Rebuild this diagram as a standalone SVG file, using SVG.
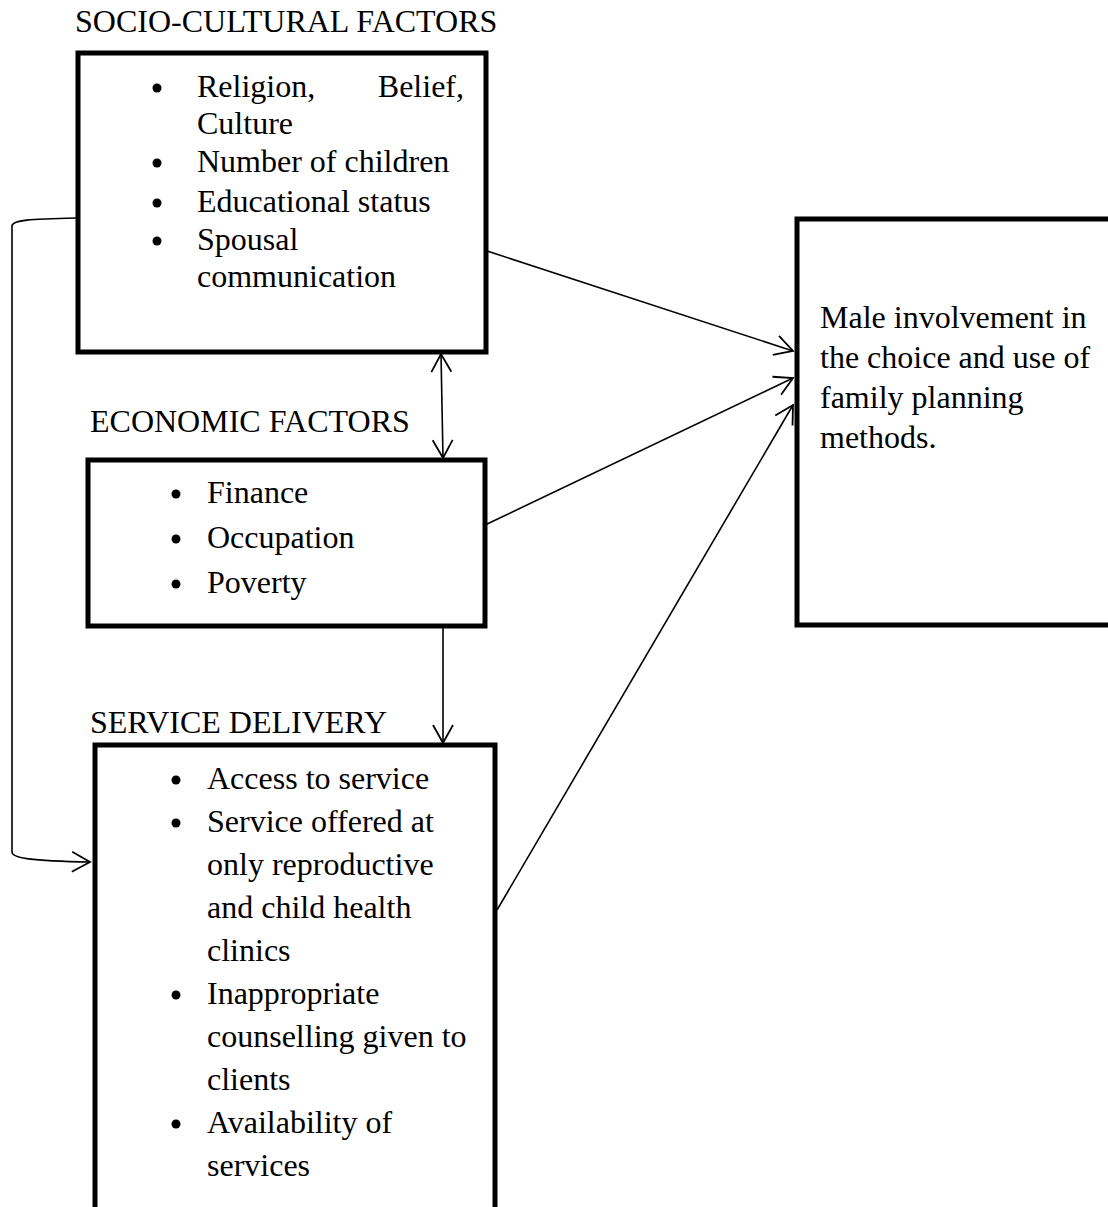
<svg xmlns="http://www.w3.org/2000/svg" width="1108" height="1207" viewBox="0 0 1108 1207">
<style>
text{font-family:"Liberation Serif","Times New Roman",serif;font-size:32px;fill:#000}
.box{fill:#fff;stroke:#000;stroke-width:5}
.con{fill:none;stroke:#000;stroke-width:1.6}
.b{fill:#000}
</style>
<defs>
<marker id="ah" viewBox="-20 -12 22 24" refX="0" refY="0" markerWidth="22" markerHeight="24" markerUnits="userSpaceOnUse" orient="auto-start-reverse">
<path d="M-18,-10 L0,0 L-18,10" fill="none" stroke="#000" stroke-width="1.8"/>
</marker>
</defs>
<rect width="1108" height="1207" fill="#fff"/>
<g id="socio">
<text x="75" y="32">SOCIO-CULTURAL FACTORS</text>
<rect class="box" x="78" y="53" width="408" height="299"/>
<circle class="b" cx="157" cy="88" r="4.5"/>
<text y="97"><tspan x="197">Religion,</tspan><tspan x="464" text-anchor="end">Belief,</tspan></text>
<text x="197" y="134">Culture</text>
<circle class="b" cx="157" cy="163" r="4.5"/>
<text x="197" y="172">Number of children</text>
<circle class="b" cx="157" cy="203" r="4.5"/>
<text x="197" y="212">Educational status</text>
<circle class="b" cx="157" cy="241" r="4.5"/>
<text x="197" y="250">Spousal</text>
<text x="197" y="287">communication</text>
</g>
<g id="economic">
<text x="90" y="432">ECONOMIC FACTORS</text>
<rect class="box" x="88" y="460" width="397" height="166"/>
<circle class="b" cx="176" cy="494" r="4.5"/>
<text x="207" y="503">Finance</text>
<circle class="b" cx="176" cy="539" r="4.5"/>
<text x="207" y="548">Occupation</text>
<circle class="b" cx="176" cy="584" r="4.5"/>
<text x="207" y="593">Poverty</text>
</g>
<g id="service">
<text x="90" y="733">SERVICE DELIVERY</text>
<rect class="box" x="95" y="745" width="400" height="500"/>
<circle class="b" cx="176" cy="780" r="4.5"/>
<text x="207" y="789">Access to service</text>
<circle class="b" cx="176" cy="823" r="4.5"/>
<text x="207" y="832">Service offered at</text>
<text x="207" y="875">only reproductive</text>
<text x="207" y="918">and child health</text>
<text x="207" y="961">clinics</text>
<circle class="b" cx="176" cy="995" r="4.5"/>
<text x="207" y="1004">Inappropriate</text>
<text x="207" y="1047">counselling given to</text>
<text x="207" y="1090">clients</text>
<circle class="b" cx="176" cy="1124" r="4.5"/>
<text x="207" y="1133">Availability of</text>
<text x="207" y="1176">services</text>
</g>
<g id="outcome">
<rect class="box" x="797" y="219" width="330" height="406"/>
<text x="820" y="328">Male involvement in</text>
<text x="820" y="368">the choice and use of</text>
<text x="820" y="408">family planning</text>
<text x="820" y="448">methods.</text>
</g>
<g id="connectors">
<path class="con" d="M76,218 C30,219 12,220 12,226 L12,852 C12,858 30,861 90,862" marker-end="url(#ah)"/>
<path class="con" d="M441,354 L443,458" marker-start="url(#ah)" marker-end="url(#ah)"/>
<path class="con" d="M443,628 L443,743" marker-end="url(#ah)"/>
<path class="con" d="M484,250 L793,351" marker-end="url(#ah)"/>
<path class="con" d="M485,525 L793,378" marker-end="url(#ah)"/>
<path class="con" d="M497,910 L793,405" marker-end="url(#ah)"/>
</g>
</svg>
